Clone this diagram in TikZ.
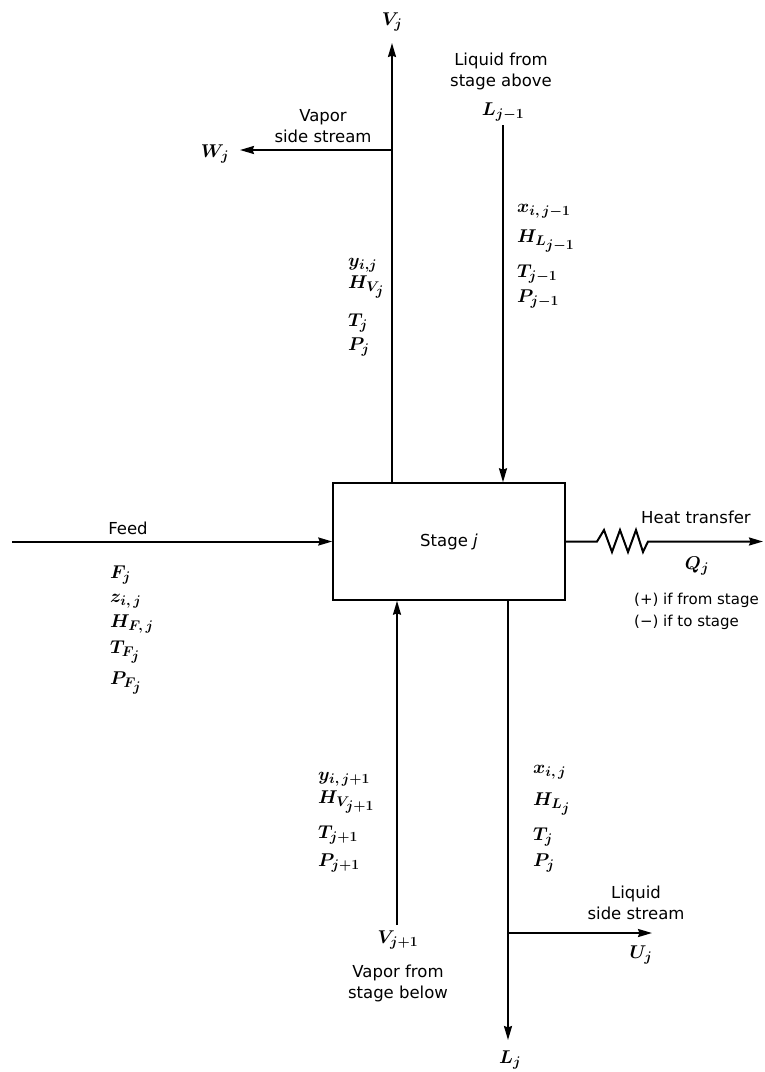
\RequirePackage{fix-cm}
\documentclass[tikz,border=0pt]{standalone}
\usepackage{fontspec}
\setmainfont{DejaVu Sans}
\usetikzlibrary{arrows.meta}
\DeclareMathSizes{18.5}{18.5}{14}{11}
\newcommand{\ns}[1]{{\scriptstyle #1}}
\begin{document}
\begin{tikzpicture}[x=1pt,y=-1pt,
  flow/.style={line width=2pt,-{Stealth[length=14pt,width=8pt,inset=1.5pt]}},
  txt/.style={font=\fontsize{16.5}{21}\selectfont, align=center, inner sep=0pt},
  var/.style={font=\fontsize{18.5}{22}\selectfont\boldmath, inner sep=0pt, anchor=base west},
  cvar/.style={font=\fontsize{18.5}{22}\selectfont\boldmath, inner sep=0pt, anchor=base},
  stagebox/.style={draw, line width=1.5pt, minimum width=232pt, minimum height=117pt, inner sep=0pt, font=\fontsize{16.5}{20}\selectfont}
]
\useasboundingbox (0,0) rectangle (765,1072);

% stage
\node[stagebox] (stage) at (449,541.5) {Stage \textit{j}};

% coordinates
\coordinate (feedin) at (12,541.5);
\coordinate (vtop) at (392,43);
\coordinate (wbr) at (392,150);
\coordinate (wend) at (240,150);
\coordinate (ltop) at (503,125);
\coordinate (vbot) at (397,925);
\coordinate (lbot) at (508,1040);
\coordinate (ubr) at (508,933);
\coordinate (uend) at (652,933);
\coordinate (hend) at (763,541.5);

% connectors
\draw[flow] (feedin) -- (stage.west);
\draw[flow] (vtop |- stage.north) -- (vtop);
\draw[flow] (wbr) -- (wend);
\draw[flow] (ltop) -- (ltop |- stage.north);
\draw[flow] (vbot) -- (vbot |- stage.south);
\draw[flow] (lbot |- stage.south) -- (lbot);
\draw[flow] (ubr) -- (uend);
\draw[flow] (stage.east) -- (597,541.5) -- (604,530) -- (612,552) -- (620,530) -- (628,552) -- (636,530) -- (643,552) -- (648,541.5) -- (hend);

% stream names
\node[cvar] (Vj) at (392,25) {$V_j$};
\node[cvar] (Wj) at (215,157) {$W_j$};
\node[cvar] (Ljm) at (503,115) {$L_{j-1}$};
\node[cvar] (Vjp) at (398,943) {$V_{j+1}$};
\node[cvar] (Lj) at (510,1063) {$L_j$};
\node[cvar] (Uj) at (641,958) {$U_j$};
\node[cvar] (Qj) at (697,569) {$Q_j$};

% texts
\node[txt] (vss) at (323,126) {Vapor\\side stream};
\node[txt] (lfa) at (501,71) {Liquid from\\stage above};
\node[txt] (feed) at (128,528) {Feed};
\node[txt] (ht) at (696,517) {Heat transfer};
\node[txt, align=left, anchor=west, font=\fontsize{15}{22}\selectfont] (sign) at (634,611) {(+) if from stage\\(−) if to stage};
\node[txt] (vfb) at (398,983) {Vapor from\\stage below};
\node[txt] (lss) at (636,903) {Liquid\\side stream};

% top-left stack
\node[var] (a1) at (348,266) {$y_{i,j}$};
\node[var] (a2) at (348,288) {$H_{V_{\ns{j}}}$};
\node[var] (a3) at (348,326) {$T_j$};
\node[var] (a4) at (348,350) {$P_j$};

% top-right stack
\node[var] (b1) at (517,212) {$x_{i,\,j-1}$};
\node[var] (b2) at (517,242) {$H_{L_{\ns{j-1}}}$};
\node[var] (b3) at (517,277) {$T_{j-1}$};
\node[var] (b4) at (517,302) {$P_{j-1}$};

% feed stack
\node[var] (c1) at (110,578) {$F_j$};
\node[var] (c2) at (110,602) {$z_{i,\,j}$};
\node[var] (c3) at (110,627) {$H_{F,\,j}$};
\node[var] (c4) at (110,653) {$T_{F_{\ns{j}}}$};
\node[var] (c5) at (110,684) {$P_{F_{\ns{j}}}$};

% bottom-left stack
\node[var] (d1) at (318,780) {$y_{i,\,j+1}$};
\node[var] (d2) at (318,803) {$H_{V_{\ns{j+1}}}$};
\node[var] (d3) at (318,838) {$T_{j+1}$};
\node[var] (d4) at (318,866) {$P_{j+1}$};

% bottom-right stack
\node[var] (e1) at (533,773) {$x_{i,\,j}$};
\node[var] (e2) at (533,805) {$H_{L_{\ns{j}}}$};
\node[var] (e3) at (533,840) {$T_j$};
\node[var] (e4) at (533,866) {$P_j$};
\end{tikzpicture}
\end{document}
